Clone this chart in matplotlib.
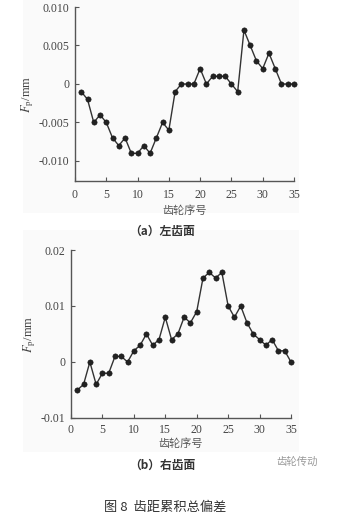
import matplotlib
matplotlib.use("Agg")
import matplotlib.pyplot as plt
from matplotlib.patches import Rectangle

teeth = list(range(1, 36))
left_flank = [-0.001, -0.002, -0.005, -0.004, -0.005, -0.007, -0.008, -0.007, -0.009, -0.009,
              -0.008, -0.009, -0.007, -0.005, -0.006, -0.001, 0.0, 0.0, 0.0, 0.002,
              0.0, 0.001, 0.001, 0.001, 0.0, -0.001, 0.007, 0.005, 0.003, 0.002,
              0.004, 0.002, 0.0, 0.0, 0.0]
right_flank = [-0.005, -0.004, 0.0, -0.004, -0.002, -0.002, 0.001, 0.001, 0.0, 0.002,
               0.003, 0.005, 0.003, 0.004, 0.008, 0.004, 0.005, 0.008, 0.007, 0.009,
               0.015, 0.016, 0.015, 0.016, 0.010, 0.008, 0.010, 0.007, 0.005, 0.004,
               0.003, 0.004, 0.002, 0.002, 0.0]

a_yticks = [-0.010, -0.005, 0, 0.005, 0.010]
a_yticklabels = ["-0.010", "-0.005", "0", "0.005", "0.010"]
b_yticks = [-0.01, 0, 0.01, 0.02]
b_yticklabels = ["-0.01", "0", "0.01", "0.02"]
xticks = [0, 5, 10, 15, 20, 25, 30, 35]

xlabel = "齿轮序号"
cap_a = "（a）左齿面"
cap_b = "（b）右齿面"
fig_title = "图 8  齿距累积总偏差"
watermark = "齿轮传动"

W, H = 352, 524
plt.rcParams["mathtext.fontset"] = "stix"
fig = plt.figure(figsize=(W / 100, H / 100), dpi=100)
fig.patch.set_facecolor("white")

serif = ["Liberation Serif", "DejaVu Serif"]
cjk = ["Noto Sans CJK SC", "DejaVu Sans"]

# faint background panels
fig.patches.append(Rectangle((23 / W, 1 - 213 / H), 276 / W, 213 / H, transform=fig.transFigure,
                             facecolor="#fafafa", edgecolor="none", zorder=-5))
fig.patches.append(Rectangle((23 / W, 1 - 452 / H), 276 / W, 222 / H, transform=fig.transFigure,
                             facecolor="#fafafa", edgecolor="none", zorder=-5))


def make_axes(rect, y, ylim, yticks, yticklabels, xpad, lpad):
    ax = fig.add_axes(rect)
    ax.set_zorder(2)
    ax.set_facecolor("none")
    ax.plot(teeth, y, color="#333333", lw=1.0, marker="o", ms=3.8,
            mfc="#222222", mec="#111111", mew=0.4, clip_on=False, zorder=3)
    ax.set_xlim(0, 35)
    ax.set_ylim(*ylim)
    ax.set_xticks(xticks)
    ax.set_yticks(yticks)
    ax.set_yticklabels(yticklabels)
    for s in ["top", "right"]:
        ax.spines[s].set_visible(False)
    for s in ["left", "bottom"]:
        ax.spines[s].set_color("#555555")
        ax.spines[s].set_linewidth(1.0)
    ax.tick_params(direction="in", length=3, width=0.8, color="#555555",
                   labelsize=8.5, labelcolor="#444444", pad=4)
    ax.tick_params(axis="x", pad=xpad)
    for lab in ax.get_xticklabels() + ax.get_yticklabels():
        lab.set_fontfamily(serif)
    ax.set_xlabel(xlabel, fontfamily=cjk, fontsize=8, color="#555555", labelpad=lpad)
    ax.set_ylabel(r"$F_{\mathrm{p}}$/mm", fontfamily=serif, fontsize=9, color="#444444", labelpad=2)
    return ax


ax_a = make_axes([75 / W, 1 - 181 / H, 219 / W, 174 / H], left_flank, (-0.0126, 0.010),
                 a_yticks, a_yticklabels, 6, 3)
ax_b = make_axes([71 / W, 1 - 418 / H, 220 / W, 168 / H], right_flank, (-0.01, 0.02),
                 b_yticks, b_yticklabels, 4, 2)

fig.text(162 / W, 1 - 231 / H, cap_a, fontfamily=cjk, fontsize=8.5, fontweight="bold",
         color="#333333", ha="center", va="center")
fig.text(162 / W, 1 - 465 / H, cap_b, fontfamily=cjk, fontsize=8.5, fontweight="bold",
         color="#333333", ha="center", va="center")
fig.text(297 / W, 1 - 462 / H, watermark, fontfamily=cjk, fontsize=7.5,
         color="#999999", ha="center", va="center")
fig.text(165 / W, 1 - 507 / H, fig_title, fontfamily=cjk, fontsize=9.5,
         color="#333333", ha="center", va="center")

fig.savefig("out.png", dpi=100)
